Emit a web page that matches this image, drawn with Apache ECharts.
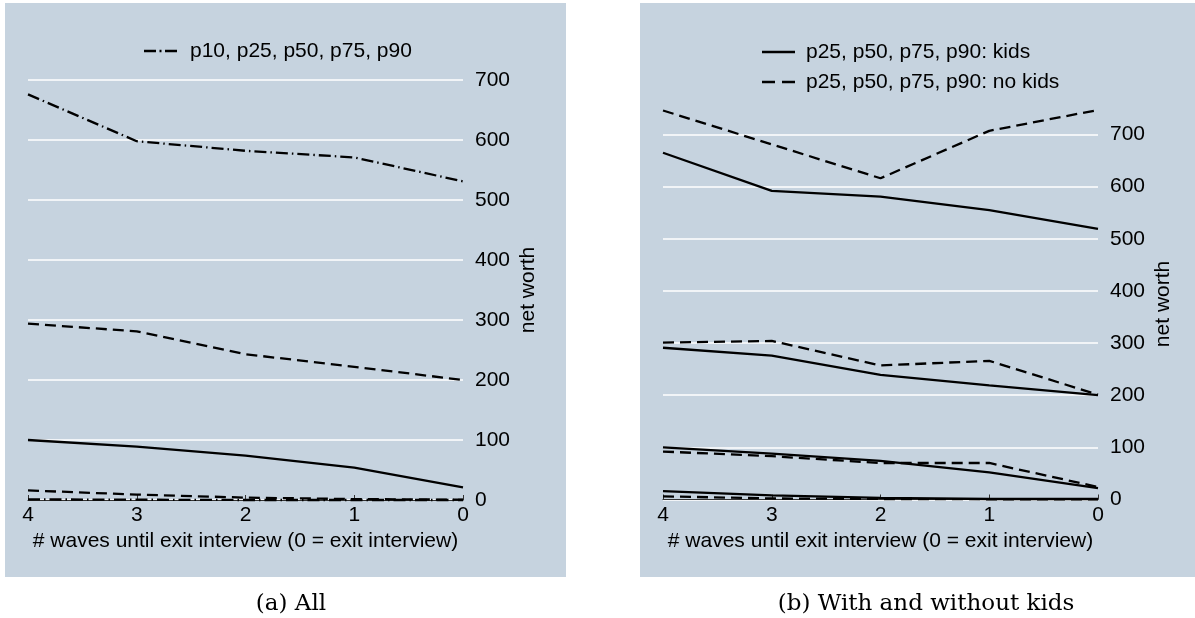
<!DOCTYPE html>
<html><head><meta charset="utf-8">
<script src="https://cdn.jsdelivr.net/npm/echarts@6/dist/echarts.min.js"></script>
<style>html,body{margin:0;padding:0;background:#fff}#c{width:1195px;height:618px}</style>
</head><body><div id="c"></div>
<script>
// ---- data ----
const waves = [4, 3, 2, 1, 0];
const yTicks = [0, 100, 200, 300, 400, 500, 600, 700];
const xTitle = '# waves until exit interview (0 = exit interview)';
const yTitle = 'net worth';
const legendAll = 'p10, p25, p50, p75, p90';
const legendKids = 'p25, p50, p75, p90: kids';
const legendNoKids = 'p25, p50, p75, p90: no kids';
const captionA = '(a) All';
const captionB = '(b) With and without kids';

// panel (a): all
const allP10 = [1, 0.5, 0, 0, 0];
const allP25 = [16, 9, 4, 1.5, 0.5];
const allP50 = [100, 89, 74, 54, 21];
const allP75 = [294, 281, 243, 222, 200];
const allP90 = [676, 598, 582, 571, 531];

// panel (b): with / without kids
const kidsP25 = [16, 8, 3, 1, 1];
const kidsP50 = [100, 88, 74, 52, 22];
const kidsP75 = [291, 276, 239, 219, 200];
const kidsP90 = [665, 592, 581, 555, 519];
const noKidsP25 = [6, 2, 1, 0.5, 0.5];
const noKidsP50 = [92, 83, 70, 70, 24];
const noKidsP75 = [301, 304, 257, 266, 201];
const noKidsP90 = [746, 681, 616, 707, 747];

// ---- styles ----
const FONT = '"Liberation Sans", Arial, Helvetica, sans-serif';
const SOLID = 'solid';
const DASH = [11, 6];
const DASHDOT = [12, 4, 1.5, 4];
const BG = 'rgb(198,211,223)';
const ICON_SOLID = 'path://M0,0h33v2.4h-33z';
const ICON_DASH = 'path://M0,0h13v2.4h-13z M20,0h13v2.4h-13z';
const ICON_DASHDOT = 'path://M0,0h12v2.4h-12z M15.5,0h2v2.4h-2z M21,0h12v2.4h-12z';

function pairs(vals) { return waves.map((w, i) => [w, vals[i]]); }
function line(name, vals, gi, type) {
  return {
    name: name, type: 'line', xAxisIndex: gi, yAxisIndex: gi,
    data: pairs(vals), symbol: 'none', clip: false, silent: true,
    lineStyle: { color: '#000', width: 2.3, type: type },
    itemStyle: { color: '#000' }
  };
}
function xAx(gi) {
  return {
    gridIndex: gi, type: 'value', min: 0, max: 4, interval: 1, inverse: true,
    position: 'bottom', offset: 3,
    axisLine: { show: true, lineStyle: { color: '#333', width: 1.2 } },
    axisTick: { show: true, inside: true, length: 5, lineStyle: { color: '#333', width: 1 } },
    axisLabel: { fontSize: 21, fontFamily: FONT, color: '#000', margin: 2 },
    splitLine: { show: false },
    name: xTitle, nameLocation: 'middle', nameGap: 26,
    nameTextStyle: { fontSize: 21, fontFamily: FONT, color: '#000' }
  };
}
function yAx(gi, max) {
  return {
    gridIndex: gi, type: 'value', min: 0, max: max, interval: 100, position: 'right',
    axisLine: { show: false }, axisTick: { show: false },
    axisLabel: { fontSize: 21, fontFamily: FONT, color: '#000', margin: 12, customValues: yTicks },
    splitLine: { show: true, showMaxLine: max === 700, lineStyle: { color: '#fff', width: 1.6 } },
    name: yTitle, nameLocation: 'middle', nameRotate: 90, nameGap: 55,
    nameTextStyle: { fontSize: 21, fontFamily: FONT, color: '#000' }
  };
}
const legendText = { fontSize: 21, fontFamily: FONT, color: '#000', lineHeight: 24 };

const chart = echarts.init(document.getElementById('c'), null, { renderer: 'canvas' });
chart.setOption({
  animation: false,
  backgroundColor: '#fff',
  graphic: [
    { type: 'rect', z: -10, shape: { x: 5, y: 3, width: 561, height: 574 }, style: { fill: BG } },
    { type: 'rect', z: -10, shape: { x: 640, y: 3, width: 561, height: 574 }, style: { fill: BG } },
    { type: 'text', style: { text: captionA, x: 291, y: 604, textAlign: 'center', textVerticalAlign: 'middle',
        font: '23px "DejaVu Serif", "Liberation Serif", serif', fill: '#000' } },
    { type: 'text', style: { text: captionB, x: 926, y: 604, textAlign: 'center', textVerticalAlign: 'middle',
        font: '23px "DejaVu Serif", "Liberation Serif", serif', fill: '#000' } }
  ],
  grid: [
    { left: 28, right: 1195 - 463, top: 80, bottom: 618 - 500 },
    { left: 663, right: 1195 - 1098, top: 108.4, bottom: 618 - 499.5 }
  ],
  xAxis: [xAx(0), xAx(1)],
  yAxis: [yAx(0, 700), yAx(1, 750)],
  legend: [
    { data: [{ name: legendAll, icon: ICON_DASHDOT }], left: 144, top: 39, padding: 0,
      itemWidth: 33, itemHeight: 2.4,
      textStyle: Object.assign({ padding: [0, 0, 0, 8] }, legendText), selectedMode: false },
    { data: [{ name: legendKids, icon: ICON_SOLID }, { name: legendNoKids, icon: ICON_DASH }],
      orient: 'vertical', left: 762, top: 40, padding: 0, itemGap: 6,
      itemWidth: 33, itemHeight: 2.4,
      textStyle: Object.assign({ padding: [0, 0, 0, 6] }, legendText), selectedMode: false }
  ],
  series: [
    line(legendAll, allP10, 0, DASHDOT),
    line(legendAll, allP25, 0, DASH),
    line(legendAll, allP50, 0, SOLID),
    line(legendAll, allP75, 0, DASH),
    line(legendAll, allP90, 0, DASHDOT),
    line(legendKids, kidsP25, 1, SOLID),
    line(legendKids, kidsP50, 1, SOLID),
    line(legendKids, kidsP75, 1, SOLID),
    line(legendKids, kidsP90, 1, SOLID),
    line(legendNoKids, noKidsP25, 1, DASH),
    line(legendNoKids, noKidsP50, 1, DASH),
    line(legendNoKids, noKidsP75, 1, DASH),
    line(legendNoKids, noKidsP90, 1, DASH)
  ]
});
</script></body></html>
